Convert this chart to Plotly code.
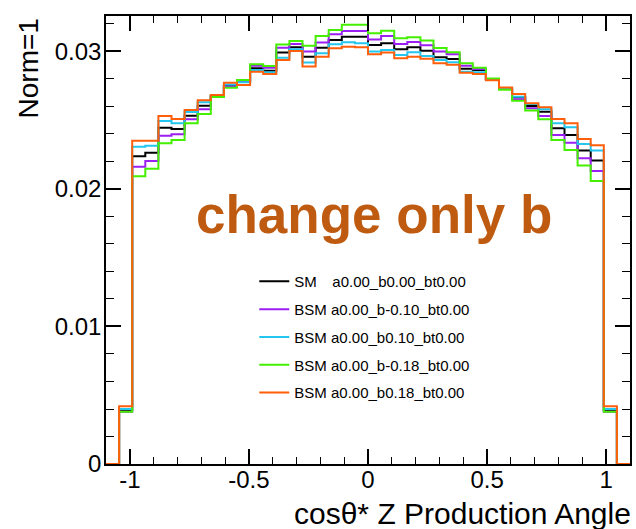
import numpy as np
import plotly.graph_objects as go

# histogram binning: 40 bins on [-1.1, 1.1]
n_bins = 40
x_lo, x_hi = -1.1, 1.1

# bin contents (Norm=1)
sm = [0.0, 0.0039,
      0.02238, 0.02264, 0.02446, 0.02436, 0.02533, 0.02606, 0.02676, 0.02751, 0.02780, 0.02878,
      0.02860, 0.02992, 0.03030, 0.02962, 0.03028, 0.03084, 0.03108, 0.03108, 0.03047, 0.03059,
      0.03016, 0.03030, 0.03006, 0.02958, 0.02945, 0.02875, 0.02865, 0.02798, 0.02732, 0.02667,
      0.02604, 0.02562, 0.02441, 0.02393, 0.02279, 0.02208,
      0.0039, 0.0]
b_m010 = [0.0, 0.0038,
          0.02162, 0.02204, 0.02388, 0.02398, 0.02507, 0.02580, 0.02673, 0.02745, 0.02785, 0.02897,
          0.02882, 0.03028, 0.03055, 0.02999, 0.03066, 0.03125, 0.03149, 0.03149, 0.03088, 0.03113,
          0.03055, 0.03069, 0.03045, 0.02999, 0.02980, 0.02897, 0.02873, 0.02800, 0.02728, 0.02652,
          0.02587, 0.02531, 0.02393, 0.02337, 0.02223, 0.02131,
          0.0038, 0.0]
b_p010 = [0.0, 0.0040,
          0.02308, 0.02315, 0.02495, 0.02478, 0.02560, 0.02630, 0.02681, 0.02760, 0.02776, 0.02865,
          0.02849, 0.02955, 0.03016, 0.02919, 0.02987, 0.03052, 0.03067, 0.03060, 0.02999, 0.03011,
          0.02975, 0.02994, 0.02967, 0.02938, 0.02921, 0.02853, 0.02849, 0.02795, 0.02735, 0.02671,
          0.02618, 0.02580, 0.02478, 0.02449, 0.02327, 0.02279,
          0.0040, 0.0]
b_m018 = [0.0, 0.0038,
          0.02092, 0.02148, 0.02332, 0.02356, 0.02478, 0.02545, 0.02669, 0.02737, 0.02793, 0.02907,
          0.02895, 0.03050, 0.03076, 0.03042, 0.03113, 0.03156, 0.03195, 0.03195, 0.03132, 0.03151,
          0.03096, 0.03103, 0.03079, 0.03025, 0.02994, 0.02914, 0.02882, 0.02803, 0.02722, 0.02642,
          0.02570, 0.02507, 0.02356, 0.02284, 0.02170, 0.02058,
          0.0038, 0.0]
b_p018 = [0.0, 0.0042,
          0.02351, 0.02351, 0.02531, 0.02509, 0.02575, 0.02645, 0.02684, 0.02773, 0.02756, 0.02853,
          0.02836, 0.02938, 0.03004, 0.02890, 0.02962, 0.03023, 0.03035, 0.03030, 0.02980, 0.02992,
          0.02950, 0.02962, 0.02948, 0.02914, 0.02904, 0.02846, 0.02836, 0.02790, 0.02738, 0.02691,
          0.02623, 0.02594, 0.02509, 0.02478, 0.02364, 0.02318,
          0.0042, 0.0]

series_names = ["SM\u00a0\u00a0\u00a0\u2009a0.00_b0.00_bt0.00",
                "BSM a0.00_b-0.10_bt0.00",
                "BSM a0.00_b0.10_bt0.00",
                "BSM a0.00_b-0.18_bt0.00",
                "BSM a0.00_b0.18_bt0.00"]
series_values = [sm, b_m010, b_p010, b_m018, b_p018]
series_colors = ["#000000", "#9b1ef2", "#22c6ee", "#44f000", "#ff5e0a"]

x_ticks = [-1, -0.5, 0, 0.5, 1]
x_ticktext = ["-1", "-0.5", "0", "0.5", "1"]
y_ticks = [0, 0.01, 0.02, 0.03]
y_ticktext = ["0", "0.01", "0.02", "0.03"]

edges = np.linspace(x_lo, x_hi, n_bins + 1)

FONT = "Liberation Sans, Arial, Helvetica, sans-serif"

fig = go.Figure()
for i, (name, vals, col) in enumerate(zip(series_names, series_values, series_colors)):
    yv = list(vals) + [vals[-1]]
    fig.add_trace(go.Scatter(
        x=edges, y=yv, mode="lines", line=dict(color=col, width=2, shape="hv"),
        name=name, legendgroup="g%d" % i, hoverinfo="skip"))

axis_common = dict(
    showline=True, linecolor="black", linewidth=1.5, mirror="ticks",
    ticks="inside", tickcolor="black", tickwidth=1.5, ticklen=15,
    showgrid=False, zeroline=False,
    tickfont=dict(family=FONT, size=24, color="black"),
)

fig.update_layout(
    width=636, height=529,
    margin=dict(l=106, r=4, t=16, b=65),
    paper_bgcolor="white", plot_bgcolor="white",
    xaxis=dict(range=[x_lo, x_hi], tickmode="array", tickvals=x_ticks, ticktext=x_ticktext,
               ticklabelstandoff=-7,
               minor=dict(tickmode="linear", tick0=0, dtick=0.1, ticks="inside", ticklen=7,
                          tickcolor="black", tickwidth=1.2),
               **axis_common),
    yaxis=dict(range=[0, 0.03258], tickmode="array", tickvals=y_ticks, ticktext=y_ticktext,
               ticklabelstandoff=-2,
               minor=dict(tickmode="linear", tick0=0, dtick=0.002, ticks="inside", ticklen=8,
                          tickcolor="black", tickwidth=1.2),
               **axis_common),
    showlegend=True,
    legend=dict(x=0.283, y=0.444, xanchor="left", yanchor="top",
                bgcolor="rgba(0,0,0,0)", borderwidth=0,
                font=dict(family=FONT, size=15, color="black"),
                traceorder="grouped", tracegroupgap=5.3),
    annotations=[
        dict(text="cos\u03b8* Z Production Angle", xref="paper", yref="paper",
             x=1.006, y=-0.110, xanchor="right", yanchor="middle", showarrow=False,
             font=dict(family=FONT, size=30, color="black")),
        dict(text="Norm=1", xref="paper", yref="paper", textangle=-90,
             x=-0.148, y=1.0, xanchor="center", yanchor="top", showarrow=False,
             font=dict(family=FONT, size=28, color="black")),
        dict(text="<b>change only b</b>", xref="x", yref="y",
             x=0.027, y=0.01818, xanchor="center", yanchor="middle", showarrow=False,
             font=dict(family=FONT, size=53, color="#bf5b10")),
    ],
)

fig.write_html("out.html")
